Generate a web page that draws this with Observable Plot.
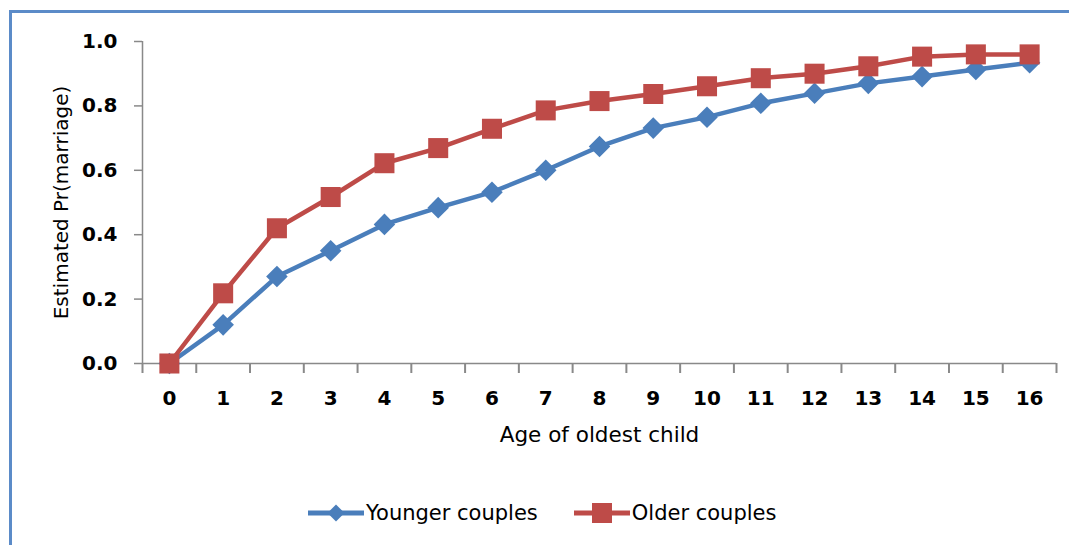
<!DOCTYPE html>
<html><head><meta charset="utf-8">
<script src="https://cdn.jsdelivr.net/npm/d3@7"></script>
<script src="https://cdn.jsdelivr.net/npm/@observablehq/plot@0.6"></script>
<style>
html,body{margin:0;padding:0;background:#fff;}
body{width:1069px;height:545px;overflow:hidden;position:relative;font-family:"DejaVu Sans",sans-serif;}
#frame{position:absolute;left:9px;top:10px;width:2000px;height:2000px;border-left:3px solid #5b8bc8;border-top:3px solid #5b8bc8;}
#chart{position:absolute;left:0;top:0;}
#legend{position:absolute;left:308px;top:498px;height:30px;display:flex;align-items:center;font-size:21px;color:#000;}
#legend .item{display:flex;align-items:center;margin-right:36px;}
#legend svg{display:block;margin-right:2px;}
</style></head><body>
<div id="frame"></div>
<div id="chart"></div>
<div id="legend"></div>
<script>
const ages = [0, 1, 2, 3, 4, 5, 6, 7, 8, 9, 10, 11, 12, 13, 14, 15, 16];
const younger = [0, 0.12, 0.27, 0.35, 0.432, 0.484, 0.532, 0.60, 0.674, 0.731, 0.765, 0.808, 0.839, 0.87, 0.891, 0.913, 0.934];
const older = [0, 0.218, 0.42, 0.517, 0.622, 0.669, 0.729, 0.786, 0.815, 0.837, 0.861, 0.886, 0.90, 0.923, 0.953, 0.96, 0.96];
const yTicks = [0, 0.2, 0.4, 0.6, 0.8, 1.0];
const seriesNames = ["Younger couples", "Older couples"];
const xTitle = "Age of oldest child";
const yTitle = "Estimated Pr(marriage)";

const blue = "#4a7ebb", red = "#be4b48", axisColor = "#898989";
const youngRows = ages.map((a, i) => ({age: a, v: younger[i]}));
const oldRows = ages.map((a, i) => ({age: a, v: older[i]}));
const boundaries = [ages[0] - 0.5, ...ages.map(a => a + 0.5)];

const plot = Plot.plot({
  width: 1069, height: 470,
  marginLeft: 142, marginRight: 13, marginTop: 41, marginBottom: 107,
  style: {fontFamily: "DejaVu Sans", background: "transparent", color: "#000", overflow: "visible"},
  x: {domain: [boundaries[0], boundaries[boundaries.length - 1]]},
  y: {domain: [0, 1]},
  marks: [
    Plot.axisY({ticks: yTicks, tickFormat: d3.format(".1f"), tickSize: 8, tickPadding: 17, stroke: axisColor, strokeWidth: 1.5, fontWeight: "bold", fontSize: 20, label: null}),
    Plot.axisX({ticks: ages, tickSize: 0, tickPadding: 27, fontWeight: "bold", fontSize: 20, label: null, tickFormat: d => String(d)}),
    Plot.axisX({ticks: boundaries, tickSize: 10, stroke: axisColor, strokeWidth: 2, tickFormat: () => "", label: null}),
    Plot.ruleY([0], {stroke: axisColor, strokeWidth: 1.5}),
    Plot.ruleX([boundaries[0]], {stroke: axisColor, strokeWidth: 1.5}),
    Plot.text([yTitle], {frameAnchor: "left", dx: -81, rotate: -90, textAnchor: "middle", fontSize: 20, fill: "#000"}),
    Plot.text([xTitle], {frameAnchor: "bottom", dy: 78, textAnchor: "middle", fontSize: 21.5, fill: "#000"}),
    Plot.line(youngRows, {x: "age", y: "v", stroke: blue, strokeWidth: 4.5}),
    Plot.dot(youngRows, {x: "age", y: "v", symbol: "square", r: 8.6, rotate: 45, fill: blue}),
    Plot.line(oldRows, {x: "age", y: "v", stroke: red, strokeWidth: 4.5}),
    Plot.dot(oldRows, {x: "age", y: "v", symbol: "square", r: 11.3, fill: red})
  ]
});
document.getElementById("chart").appendChild(plot);

// legend
const legend = d3.select("#legend");
const legendSpecs = [
  {name: seriesNames[0], color: blue, shape: "diamond"},
  {name: seriesNames[1], color: red, shape: "square"}
];
legendSpecs.forEach(s => {
  const item = legend.append("div").attr("class", "item");
  const svg = item.append("svg").attr("width", 56).attr("height", 24);
  svg.append("line").attr("x1", 0).attr("x2", 56).attr("y1", 12).attr("y2", 12)
    .attr("stroke", s.color).attr("stroke-width", 5);
  if (s.shape === "diamond") {
    svg.append("rect").attr("x", -6).attr("y", -6).attr("width", 12).attr("height", 12)
      .attr("fill", s.color).attr("transform", "translate(28,12) rotate(45)");
  } else {
    svg.append("rect").attr("x", 18).attr("y", 2).attr("width", 20).attr("height", 20).attr("fill", s.color);
  }
  item.append("span").text(s.name);
});
</script>
</body></html>
